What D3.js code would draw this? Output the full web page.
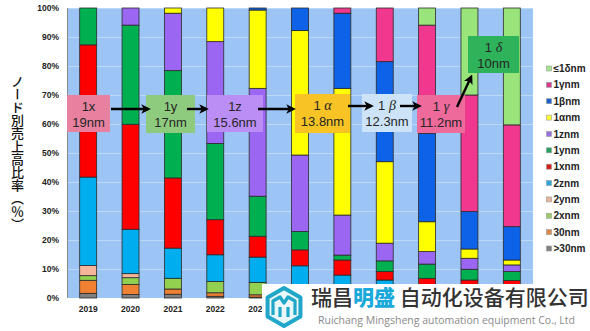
<!DOCTYPE html>
<html><head><meta charset="utf-8">
<script src="https://cdn.jsdelivr.net/npm/d3@7"></script>
<style>
html,body{margin:0;padding:0;background:#fff;}
#wrap{position:relative;width:590px;height:331px;}
svg{display:block;position:absolute;left:0;top:0;}
#ytitle{position:absolute;left:9px;top:75px;writing-mode:vertical-rl;text-orientation:mixed;white-space:nowrap;
  font-family:"Noto Sans CJK JP",sans-serif;font-size:13px;line-height:16px;color:#111;font-weight:500;}
</style></head>
<body>
<div id="wrap">
<svg id="chart" width="590" height="331"></svg>
<div id="ytitle"></div>
</div>
<script>
// ---------- data ----------
const years = ['2019','2020','2021','2022','2023','2024','2025','2026','2027','2028','2029'];
const seriesKeys = ['>30nm','30nm','2xnm','2ynm','2znm','1xnm','1ynm','1znm','1αnm','1βnm','1γnm','≤1δnm'];
const gt30 = [1.6,1.2,1.3,0.6,0.3,0.2,0.2,0.2,0.1,0.1,0.1];
const n30  = [4.5,3.5,1.8,1.2,0.8,0.6,0.4,0.5,0.3,0.4,0.4];
const n2x  = [1.6,2.3,3.7,3.9,4.3,2.7,1.9,1.3,1.0,1.0,1.0];
const n2y  = [3.5,1.4,0,0,0,0,0,0,0,0,0];
const n2z  = [30.5,15.3,10.4,9.2,8.7,7.6,5.4,4.2,2.4,2.0,2.0];
const n1x  = [45.6,36.2,24.2,12.1,7.2,5.5,5.2,2.9,3.0,2.7,2.5];
const n1y  = [12.7,34.2,37.0,26.3,13.8,6.3,1.7,3.7,4.9,3.7,3.1];
const n1z  = [0,5.9,19.8,35.1,37.2,26.4,13.8,6.1,4.3,3.8,2.3];
const n1a  = [0,0,1.8,11.6,27.0,42.9,43.7,28.1,10.3,3.2,1.7];
const n1b  = [0,0,0,0,0.7,7.8,25.9,34.5,30.5,12.9,11.5];
const n1g  = [0,0,0,0,0,0,1.8,18.5,37.3,40.2,35.1];
const n1d  = [0,0,0,0,0,0,0,0,5.9,30.0,40.3];
const seriesValues = [gt30,n30,n2x,n2y,n2z,n1x,n1y,n1z,n1a,n1b,n1g,n1d];
const yTicks = [0,10,20,30,40,50,60,70,80,90,100];
const visibleYearLabels = ['2019','2020','2021','2022','2023']; // later ones sit under the watermark
const yTitle = 'ノード別売上高比率（％）';
// annotation labels
const nodeNames = ['1x','1y','1z','1 α','1 β','1 γ','1 δ'];
const nodeSizes = ['19nm','17nm','15.6nm','13.8nm','12.3nm','11.2nm','10nm'];

// ---------- styles / layout ----------
const colors = ['#7f7f7f','#f08032','#92d050','#f4b69a','#00aeef','#ff0000','#00b050','#9b66f2','#ffff00','#0d62e8','#f0388e','#9ae57b'];
const legendColors = ['#808080','#d9884a','#9ccb6b','#e8b49a','#28a7d8','#d41a1a','#23a05a','#9b6fe0','#ffff33','#1a5fcc','#d63b8a','#a6e58a'];
const plot = {left:67,right:533,top:8,bottom:298};
const boxLayout = [
  {x:67,y:95,w:43,h:37,fill:'#e8809f'},
  {x:146,y:95,w:49,h:38,fill:'#8fcb7e'},
  {x:207,y:95,w:56,h:37,fill:'#bb8ef5'},
  {x:295,y:94,w:55,h:39,fill:'#f7c325'},
  {x:362,y:94,w:50,h:38,fill:'#cde4f8'},
  {x:417,y:95,w:48,h:38,fill:'#ee6a9b'},
  {x:468,y:36,w:51,h:37,fill:'#2eb25a'}
];
const arrows = [
  [111,109,148,109],[187,109,206,109],[258,109,293,109],
  [348,106,371,106],[400,106,419,106],[457,107,471,77]
];

d3.select('#ytitle').text(yTitle);

const svg = d3.select('#chart');
const defs = svg.append('defs');
defs.append('marker').attr('id','ah').attr('viewBox','0 0 10 10')
  .attr('refX',7).attr('refY',5).attr('markerWidth',4).attr('markerHeight',4)
  .attr('orient','auto').append('path').attr('d','M0,0 L10,5 L0,10 L2.5,5 Z').attr('fill','#000');

const x = d3.scaleBand().domain(years).range([plot.left,plot.right]).paddingInner(0.6).paddingOuter(0.3);
const y = d3.scaleLinear().domain([0,100]).range([plot.bottom,plot.top]);

// plot background
svg.append('rect').attr('x',plot.left).attr('y',plot.top)
  .attr('width',plot.right-plot.left).attr('height',plot.bottom-plot.top).attr('fill','#9cc4f4');
// gridlines
svg.append('g').selectAll('line').data(yTicks.slice(1)).join('line')
  .attr('x1',plot.left).attr('x2',plot.right)
  .attr('y1',d=>y(d)+0.5).attr('y2',d=>y(d)+0.5)
  .attr('stroke','#ffffff').attr('stroke-opacity',0.35).attr('stroke-width',1);

// stacked data
const table = years.map((yr,i)=>{const o={year:yr}; seriesKeys.forEach((k,j)=>o[k]=seriesValues[j][i]); return o;});
const stacked = d3.stack().keys(seriesKeys)(table);

svg.append('g').selectAll('g').data(stacked).join('g')
  .attr('fill',(d,i)=>colors[i])
  .selectAll('rect').data(d=>d.filter(s=>s[1]-s[0]>0)).join('rect')
  .attr('x',d=>x(d.data.year)).attr('width',x.bandwidth())
  .attr('y',d=>y(d[1])).attr('height',d=>y(d[0])-y(d[1]))
  .attr('stroke','#2b2b2b').attr('stroke-width',0.8);

// left axis line
svg.append('line').attr('x1',plot.left+0.5).attr('x2',plot.left+0.5)
  .attr('y1',plot.top).attr('y2',plot.bottom).attr('stroke','#8a8a8a').attr('stroke-width',1);

// y axis labels
const yAxis = d3.axisLeft(y).tickValues(yTicks).tickFormat(d=>d+'%').tickSize(0).tickPadding(8);
const ya = svg.append('g').attr('transform',`translate(${plot.left},0)`).call(yAxis);
ya.select('.domain').remove();
ya.selectAll('text').attr('font-family','Liberation Sans, Arial, sans-serif')
  .attr('font-weight','bold').attr('font-size','8.5px').attr('fill','#222');

// x axis labels
const xAxis = d3.axisBottom(x).tickValues(visibleYearLabels).tickSize(0).tickPadding(8);
const xa = svg.append('g').attr('transform',`translate(0,${plot.bottom})`).call(xAxis);
xa.select('.domain').remove();
xa.selectAll('text').attr('font-family','Liberation Sans, Arial, sans-serif')
  .attr('font-weight','bold').attr('font-size','8.5px').attr('fill','#222');

// legend
const lg = svg.append('g');
const legendItems = seriesKeys.map((k,i)=>({k,c:legendColors[i]})).reverse();
const ly = d3.scaleLinear().domain([0,legendItems.length-1]).range([68.5,248.5]);
legendItems.forEach((d,i)=>{
  lg.append('rect').attr('x',546.5).attr('y',ly(i)-2.5).attr('width',5).attr('height',5)
    .attr('fill',d.c).attr('stroke','#999').attr('stroke-width',0.6);
  lg.append('text').attr('x',553.5).attr('y',ly(i)+3.6).text(d.k)
    .attr('font-family','Liberation Sans, Arial, sans-serif').attr('font-weight','bold')
    .attr('font-size','10px').attr('fill','#222');
});

// annotation boxes
const ann = svg.append('g');
boxLayout.forEach((b,i)=>{
  ann.append('rect').attr('x',b.x).attr('y',b.y).attr('width',b.w).attr('height',b.h).attr('fill',b.fill);
  const cx = b.x+b.w/2;
  const t1 = ann.append('text').attr('x',cx).attr('y',b.y+16).attr('text-anchor','middle')
    .attr('font-family','Liberation Sans Narrow, Liberation Sans, Arial, sans-serif')
    .attr('font-size','13px').attr('fill','#262626');
  const name = nodeNames[i];
  if (name.indexOf(' ')>0){
    const parts = name.split(' ');
    t1.append('tspan').text(parts[0]+' ');
    t1.append('tspan').text(parts[1]).attr('font-family','Liberation Serif, Times New Roman, serif').attr('font-style','italic').attr('font-size','14px');
  } else t1.text(name);
  ann.append('text').attr('x',cx).attr('y',b.y+32).attr('text-anchor','middle')
    .attr('font-family','Liberation Sans Narrow, Liberation Sans, Arial, sans-serif')
    .attr('font-size','13px').attr('fill','#262626').text(nodeSizes[i]);
});

// arrows
svg.append('g').selectAll('line').data(arrows).join('line')
  .attr('x1',d=>d[0]).attr('y1',d=>d[1]).attr('x2',d=>d[2]).attr('y2',d=>d[3])
  .attr('stroke','#000').attr('stroke-width',2.4).attr('marker-end','url(#ah)');

// watermark
const wm = svg.append('g');
wm.append('rect').attr('x',262).attr('y',284).attr('width',328).attr('height',47).attr('fill','#fff');
const hx = 284, hy = 307, hr = 19;
const hexPts = d3.range(6).map(k=>{const a=Math.PI/3*k+Math.PI/6; return [hx+hr*Math.cos(a), hy+hr*Math.sin(a)];});
wm.append('polygon').attr('points',hexPts.map(p=>p.join(',')).join(' '))
  .attr('fill','#e9f7fb').attr('stroke','#1fa6c9').attr('stroke-width',4).attr('stroke-linejoin','round');
wm.append('path').attr('d',`M${hx-11},${hy+8} L${hx-11},${hy-6} L${hx-4},${hy-10} L${hx},${hy-4} L${hx+4},${hy-10} L${hx+11},${hy-6} L${hx+11},${hy+8} M${hx-4},${hy+10} L${hx-4},${hy} M${hx+4},${hy+10} L${hx+4},${hy}`)
  .attr('fill','none').attr('stroke','#1fa6c9').attr('stroke-width',3.2).attr('stroke-linejoin','round');
const wt = wm.append('text').attr('x',311).attr('y',305)
  .attr('font-family','Noto Sans CJK SC, sans-serif').attr('font-size','21px');
wt.append('tspan').text('瑞昌').attr('fill','#333').attr('font-weight','500');
wt.append('tspan').text('明盛').attr('fill','#1aa9db').attr('font-weight','900');
wt.append('tspan').text(' 自动化设备有限公司').attr('fill','#333').attr('font-weight','500');
wm.append('text').attr('x',318).attr('y',324)
  .attr('font-family','Open Sans, sans-serif').attr('font-size','10.5px').attr('fill','#8a8a8a')
  .attr('textLength',257).attr('lengthAdjust','spacingAndGlyphs')
  .text('Ruichang Mingsheng automation equipment Co., Ltd');
</script>
</body></html>
